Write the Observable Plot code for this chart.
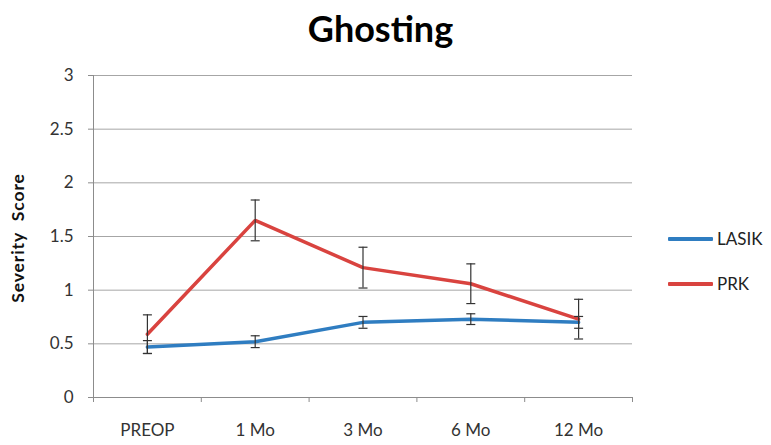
<!DOCTYPE html>
<html>
<head>
<meta charset="utf-8">
<script src="https://cdn.jsdelivr.net/npm/d3@7"></script>
<script src="https://cdn.jsdelivr.net/npm/@observablehq/plot@0.6"></script>
<style>
  html, body { margin: 0; padding: 0; background: #fff; }
  #wrap { position: relative; width: 771px; height: 445px; font-family: Lato, "Open Sans", sans-serif; }
  #title { height: 60px; line-height: 56px; text-align: center; font-weight: bold; font-size: 36px; color: #000; box-sizing: border-box; padding-right: 10px; }
  #ylabel { position: absolute; left: 17px; top: 238px; transform: translate(-50%, -50%) rotate(-90deg); white-space: nowrap; font-weight: bold; font-size: 17.5px; letter-spacing: 0.9px; word-spacing: 6px; color: #111; }
  #legend { position: absolute; left: 668px; top: 216px; font-size: 17px; color: #222; }
  .item { display: flex; align-items: center; height: 45px; }
  .swatch { width: 45px; height: 4px; margin-right: 4px; border-radius: 1px; }
</style>
</head>
<body>
<div id="wrap">
  <div id="title">Ghosting</div>
  <div id="chart"></div>
  <div id="ylabel">Severity Score</div>
  <div id="legend"></div>
</div>
<script>
// Mean ghosting severity by visit, with error bar half-widths
const categories = ["PREOP", "1 Mo", "3 Mo", "6 Mo", "12 Mo"];
const seriesNames = ["LASIK", "PRK"];
const seriesColors = ["#2f7dc1", "#d9433f"];
const lasikValues = [0.47, 0.52, 0.70, 0.73, 0.70];
const lasikErrors = [0.06, 0.055, 0.055, 0.05, 0.055];
const prkValues = [0.59, 1.65, 1.21, 1.06, 0.73];
const prkErrors = [0.18, 0.19, 0.19, 0.185, 0.185];
const yTicks = [0, 0.5, 1, 1.5, 2, 2.5, 3];

const rows = [];
[[lasikValues, lasikErrors], [prkValues, prkErrors]].forEach(([vals, errs], s) => {
  vals.forEach((v, i) => rows.push({series: seriesNames[s], i, value: v, lo: v - errs[i], hi: v + errs[i]}));
});

const xDomain = [-0.5, categories.length - 0.5];
const boundaries = d3.range(xDomain[0], xDomain[1] + 0.01, 1);

// horizontal cap for the error bars
const cap = {draw(context, size) { const w = 4.5; context.moveTo(-w, 0); context.lineTo(w, 0); }};

const chart = Plot.plot({
  width: 771,
  height: 385,
  marginTop: 15,
  marginBottom: 48,
  marginLeft: 93,
  marginRight: 139,
  style: {fontFamily: "Lato, 'Open Sans', sans-serif", background: "#fff"},
  x: {type: "linear", domain: xDomain},
  y: {domain: [0, 3]},
  color: {domain: seriesNames, range: seriesColors},
  marks: [
    Plot.gridY(yTicks, {stroke: "#a6a6a6", strokeOpacity: 1}),
    Plot.ruleX([xDomain[0]], {stroke: "#8c8c8c"}),
    Plot.ruleY([0], {stroke: "#8c8c8c"}),
    Plot.axisY({ticks: yTicks, tickSize: 5, tickPadding: 15, tickFormat: d => String(d), fontSize: 17, fill: "#333", stroke: "#8c8c8c", label: null}),
    Plot.axisX({ticks: boundaries, tickSize: 5, tickFormat: () => "", stroke: "#8c8c8c", label: null}),
    Plot.axisX({ticks: d3.range(categories.length), tickSize: 0, tickPadding: 26, tickFormat: i => categories[i], fontSize: 17, fill: "#333", label: null}),
    Plot.line(rows, {x: "i", y: "value", stroke: "series", z: "series", strokeWidth: 3.5, strokeLinejoin: "miter"}),
    Plot.ruleX(rows, {x: "i", y1: "lo", y2: "hi", stroke: "#333", strokeWidth: 1.2}),
    Plot.dot(rows, {x: "i", y: "lo", symbol: cap, r: 4, stroke: "#333", strokeWidth: 1.2}),
    Plot.dot(rows, {x: "i", y: "hi", symbol: cap, r: 4, stroke: "#333", strokeWidth: 1.2})
  ]
});
document.getElementById("chart").appendChild(chart);

const legend = document.getElementById("legend");
seriesNames.forEach((name, k) => {
  const item = document.createElement("div");
  item.className = "item";
  const sw = document.createElement("div");
  sw.className = "swatch";
  sw.style.background = seriesColors[k];
  const label = document.createElement("span");
  label.textContent = name;
  item.appendChild(sw);
  item.appendChild(label);
  legend.appendChild(item);
});
</script>
</body>
</html>
